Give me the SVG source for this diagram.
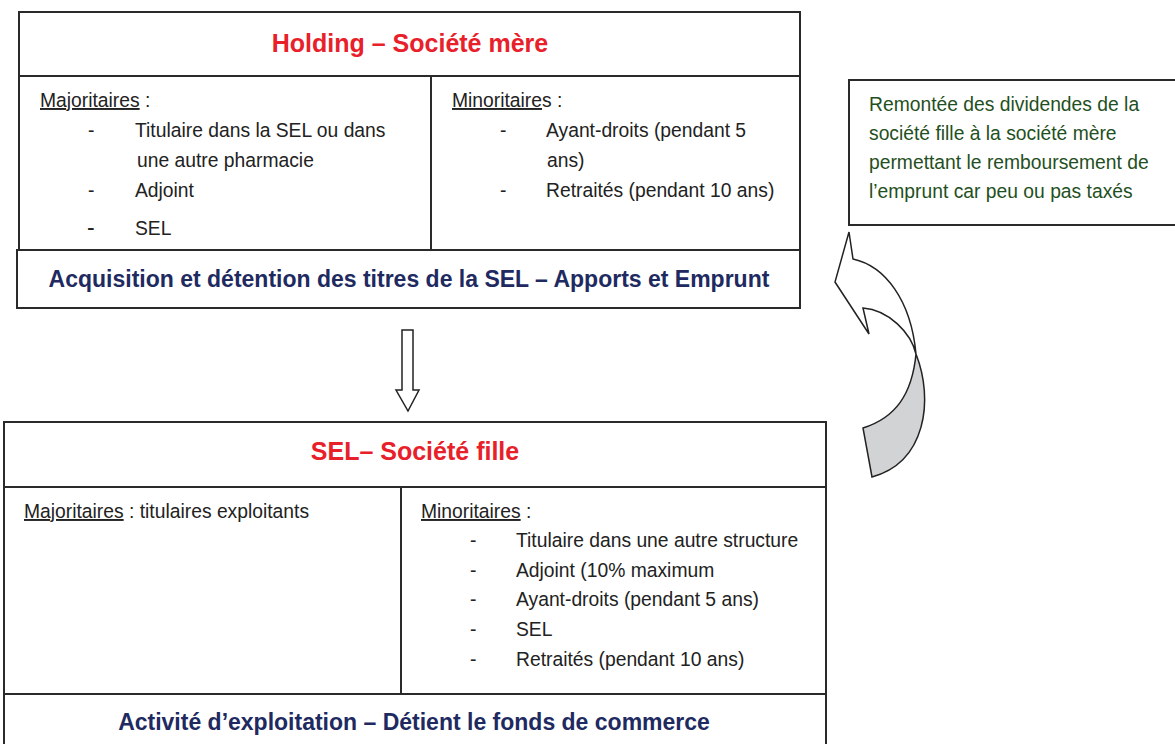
<svg xmlns="http://www.w3.org/2000/svg" width="1175" height="744" viewBox="0 0 1175 744">
<style>
.box{fill:#fff;stroke:#2a2a2a;stroke-width:2}
.ln{stroke:#2a2a2a;stroke-width:2}
text{font-family:"Liberation Sans",Arial,sans-serif}
.t{font-size:25px;font-weight:bold;fill:#e8202a;text-anchor:middle}
.b{font-size:23px;font-weight:bold;fill:#202a60;text-anchor:middle}
.x{font-size:19.3px;fill:#222}
.g{font-size:19.3px;fill:#1f4f22}
.u{text-decoration:underline}
.arr{fill:#fff;stroke:#222;stroke-width:1.5;stroke-linejoin:miter}
</style>
<rect width="1175" height="744" fill="#fff"/>

<g id="holding">
<rect class="box" x="19" y="12" width="781" height="64"/>
<rect class="box" x="19" y="76" width="781" height="174"/>
<line class="ln" x1="431" y1="76" x2="431" y2="250"/>
<rect class="box" x="17" y="250" width="783" height="58"/>
<text class="t" x="410" y="52">Holding – Société mère</text>
<text class="x" x="40" y="107"><tspan class="u">Majoritaires</tspan> :</text>
<text class="x" x="88" y="137">-</text>
<text class="x" x="135" y="137">Titulaire dans la SEL ou dans</text>
<text class="x" x="137" y="167">une autre pharmacie</text>
<text class="x" x="88" y="197">-</text>
<text class="x" x="135" y="197">Adjoint</text>
<text class="x" x="87" y="235" style="font-size:23px">-</text>
<text class="x" x="135" y="235">SEL</text>
<text class="x" x="452" y="107"><tspan class="u">Minoritaire</tspan>s :</text>
<text class="x" x="500" y="137">-</text>
<text class="x" x="546" y="137">Ayant-droits (pendant 5</text>
<text class="x" x="547" y="167">ans)</text>
<text class="x" x="500" y="197">-</text>
<text class="x" x="546" y="197">Retraités (pendant 10 ans)</text>
<text class="b" x="409" y="287">Acquisition et détention des titres de la SEL – Apports et Emprunt</text>
</g>

<g id="dividendes">
<rect class="box" x="849" y="80" width="340" height="145"/>
<text class="g" x="869" y="111">Remontée des dividendes de la</text>
<text class="g" x="869" y="140">société fille à la société mère</text>
<text class="g" x="869" y="169">permettant le remboursement de</text>
<text class="g" x="869" y="198">l’emprunt car peu ou pas taxés</text>
</g>

<g id="sel">
<rect class="box" x="4" y="422" width="822" height="65"/>
<rect class="box" x="4" y="487" width="397" height="207"/>
<rect class="box" x="401" y="487" width="425" height="207"/>
<rect class="box" x="4" y="694" width="822" height="60"/>
<text class="t" x="415" y="460">SEL– Société fille</text>
<text class="x" x="24" y="518"><tspan class="u">Majoritaires</tspan> : titulaires exploitants</text>
<text class="x" x="421" y="518"><tspan class="u">Minoritaires</tspan> :</text>
<text class="x" x="470" y="547">-</text>
<text class="x" x="516" y="547">Titulaire dans une autre structure</text>
<text class="x" x="470" y="577">-</text>
<text class="x" x="516" y="577">Adjoint (10% maximum</text>
<text class="x" x="470" y="606">-</text>
<text class="x" x="516" y="606">Ayant-droits (pendant 5 ans)</text>
<text class="x" x="470" y="636">-</text>
<text class="x" x="516" y="636">SEL</text>
<text class="x" x="470" y="666">-</text>
<text class="x" x="516" y="666">Retraités (pendant 10 ans)</text>
<text class="b" x="414" y="730">Activité d’exploitation – Détient le fonds de commerce</text>
</g>

<g id="connectors">
<polygon class="arr" points="402,330 413,330 413,390 419,390 408,411 396,390 402,390"/>
<path class="arr" d="M849,232 L853,259 C885,266 911,300 916,354 C911,333 889,310 863,308 L869,334 L835,282 Z"/>
<path class="arr" style="fill:#d2d3d5" d="M916,354 C934,400 926,462 872,477 L863,428 C895,418 912,395 916,354 Z"/>
</g>
</svg>
